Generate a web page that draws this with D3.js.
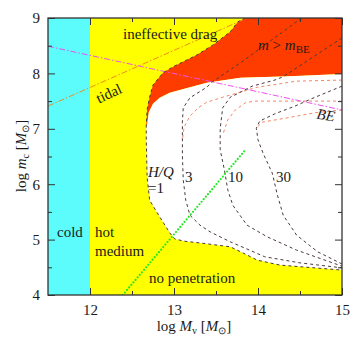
<!DOCTYPE html>
<html>
<head>
<meta charset="utf-8">
<script src="https://cdn.jsdelivr.net/npm/d3@7"></script>
<style>
body { margin: 0; background: #fff; }
text { font-family: "Liberation Serif", "Times New Roman", serif; fill: #1a1a1a; }
</style>
</head>
<body>
<svg id="chart" width="359" height="340"></svg>
<script>
// axis ranges and ticks
var xDomain = [11.5, 15], yDomain = [4, 9];
var xTicks = [12, 13, 14, 15], xMinor = [12.5, 13.5, 14.5];
var yTicks = [4, 5, 6, 7, 8, 9], yMinor = [4.5, 5.5, 6.5, 7.5, 8.5];
var coldEdge = 12;

// H/Q = 1 contour (log Mv, log mc), from top frame down and along the bottom
var hq1 = [[13.85, 9.00], [13.76, 8.93], [13.67, 8.75], [13.46, 8.51], [13.27, 8.33],
  [13.15, 8.24], [12.99, 8.12], [12.87, 8.01], [12.75, 7.79], [12.71, 7.57],
  [12.68, 7.34], [12.67, 7.07], [12.67, 6.80], [12.68, 6.13], [12.71, 5.71],
  [12.83, 5.41], [12.95, 5.12], [13.01, 5.01], [13.13, 4.97], [13.31, 4.94],
  [13.67, 4.87], [13.82, 4.76], [13.99, 4.63], [14.26, 4.54], [15.00, 4.45]];
// m = m_BE edge, right to left
var beEdge = [[15.00, 7.99], [14.38, 7.95], [13.79, 7.92], [13.39, 7.83], [13.07, 7.70],
  [12.95, 7.65], [12.83, 7.56], [12.75, 7.45], [12.70, 7.30], [12.68, 7.07]];

var hq3 = [[14.52, 9.00], [13.79, 8.19], [13.45, 7.84], [13.39, 7.75], [13.19, 7.56],
  [13.11, 7.38], [13.10, 7.12], [13.10, 6.53], [13.11, 6.08], [13.14, 5.71],
  [13.19, 5.44], [13.31, 5.26], [13.43, 5.14], [13.67, 4.96], [13.90, 4.81],
  [14.08, 4.69], [14.50, 4.58], [15.00, 4.49]];
var hq10 = [[15.00, 8.64], [14.30, 7.94], [14.20, 7.88], [13.93, 7.77], [13.79, 7.66],
  [13.67, 7.57], [13.58, 7.38], [13.55, 7.01], [13.55, 6.62], [13.60, 6.26],
  [13.64, 5.90], [13.70, 5.62], [13.87, 5.26], [14.11, 5.05], [14.46, 4.81],
  [15.00, 4.52]];
var hq30 = [[15.00, 7.77], [14.68, 7.57], [14.44, 7.41], [14.20, 7.27], [14.02, 7.14],
  [13.98, 7.01], [14.00, 6.80], [14.06, 6.56], [14.17, 6.20], [14.23, 5.81],
  [14.30, 5.44], [14.46, 5.08], [14.71, 4.78], [15.00, 4.56]];

var be3 = [[15.00, 7.88], [14.46, 7.86], [13.99, 7.75], [13.58, 7.57], [13.39, 7.48],
  [13.29, 7.38], [13.19, 7.23], [13.12, 7.03], [13.10, 6.80]];
var be10 = [[15.00, 7.50], [13.96, 7.50], [13.85, 7.47], [13.73, 7.34], [13.64, 7.16],
  [13.58, 6.89]];
var be30 = [[15.00, 7.34], [14.68, 7.29], [14.32, 7.19], [14.05, 7.12], [13.99, 7.03]];

var beLine = [[11.5, 8.49], [15.0, 7.34]];
var tidal = [[11.5, 7.41], [13.87, 9.0]];
var green = [[12.39, 4.0], [13.85, 6.62]];

var svg = d3.select('#chart');
var x = d3.scaleLinear().domain(xDomain).range([48, 342]);
var y = d3.scaleLinear().domain(yDomain).range([295, 18]);
var line = d3.line().x(d => x(d[0])).y(d => y(d[1]));

svg.append('clipPath').attr('id', 'plot')
  .append('rect')
  .attr('x', x(xDomain[0])).attr('y', y(yDomain[1]))
  .attr('width', x(xDomain[1]) - x(xDomain[0]))
  .attr('height', y(yDomain[0]) - y(yDomain[1]));

var g = svg.append('g').attr('clip-path', 'url(#plot)');

// regions
g.append('rect')
  .attr('x', x(xDomain[0])).attr('y', y(yDomain[1]))
  .attr('width', x(coldEdge) - x(xDomain[0]))
  .attr('height', y(yDomain[0]) - y(yDomain[1]))
  .attr('fill', '#5cfcfc');
g.append('rect')
  .attr('x', x(coldEdge)).attr('y', y(yDomain[1]))
  .attr('width', x(xDomain[1]) - x(coldEdge))
  .attr('height', y(yDomain[0]) - y(yDomain[1]))
  .attr('fill', '#ffff00');

var redArea = [[15, 9]].concat(hq1.slice(0, 12), beEdge.slice().reverse());
g.append('path').attr('d', line(redArea) + 'Z').attr('fill', '#ff3c00');
var whiteArea = beEdge.concat(hq1.slice(11));
g.append('path').attr('d', line(whiteArea) + 'Z').attr('fill', '#fff');

// curves
function curve(data, color, dash, width) {
  g.append('path').attr('d', line(data))
    .attr('fill', 'none')
    .attr('stroke', color)
    .attr('stroke-width', width || 1)
    .attr('stroke-dasharray', dash);
}
[be3, be10, be30].forEach(d => curve(d, '#f58563', '3,3'));
curve(beLine, '#f050f0', '6,2,1.5,2');
curve(tidal, '#f08a20', '6,2,1.5,2');
[hq1, hq3, hq10, hq30].forEach(d => curve(d, '#4a3a3a', '3,3'));
g.append('path').attr('d', line(green))
  .attr('fill', 'none').attr('stroke', '#22e822')
  .attr('stroke-width', 2.2).attr('stroke-dasharray', '0,3.3')
  .attr('stroke-linecap', 'round');

// axes, ticks inward
function axis(gen, tx, ty, vals, size, fmt, pad) {
  var a = svg.append('g').attr('transform', 'translate(' + tx + ',' + ty + ')')
    .call(gen.tickValues(vals).tickSize(size).tickPadding(pad || 3)
      .tickFormat(fmt ? d3.format('d') : ''));
  a.select('.domain').remove();
  a.selectAll('line').attr('stroke', '#333');
  a.selectAll('text').style('font-size', '15px').style('font-family', '"Liberation Serif", serif').attr('fill', '#1a1a1a');
  return a;
}
axis(d3.axisBottom(x), 0, 295, xTicks, -7, true, 9);
axis(d3.axisBottom(x), 0, 295, xMinor, -4, false);
axis(d3.axisTop(x), 0, 18, xTicks, -7, false);
axis(d3.axisTop(x), 0, 18, xMinor, -4, false);
axis(d3.axisLeft(y), 48, 0, yTicks, -7, true, 8);
axis(d3.axisLeft(y), 48, 0, yMinor, -4, false);
axis(d3.axisRight(y), 342, 0, yTicks, -7, false);
axis(d3.axisRight(y), 342, 0, yMinor, -4, false);

svg.append('rect')
  .attr('x', x(xDomain[0])).attr('y', y(yDomain[1]))
  .attr('width', x(xDomain[1]) - x(xDomain[0]))
  .attr('height', y(yDomain[0]) - y(yDomain[1]))
  .attr('fill', 'none').attr('stroke', '#333').attr('stroke-width', 1.3);

// labels
function label(tx, ty, txt, opts) {
  opts = opts || {};
  var t = svg.append('text').attr('x', tx).attr('y', ty)
    .style('font-size', (opts.size || 15) + 'px')
    .text(txt);
  if (opts.italic) t.style('font-style', 'italic');
  if (opts.anchor) t.attr('text-anchor', opts.anchor);
  if (opts.rotate) t.attr('x', 0).attr('y', 0)
    .attr('transform', 'translate(' + tx + ',' + ty + ') rotate(' + opts.rotate + ')');
  return t;
}
label(123, 39, 'ineffective drag');
label(111, 98, 'tidal', {anchor: 'middle', rotate: -25});
label(57, 237, 'cold');
label(95, 237, 'hot');
label(95, 256, 'medium');
label(149, 283, 'no penetration');
label(148, 177, 'H/Q', {italic: true});
label(148, 193, '=1');
label(185, 182, '3');
label(228, 182, '10');
label(276, 182, '30');
label(325, 120, 'BE', {italic: true, anchor: 'middle', rotate: 10});

var mbe = svg.append('text').attr('x', 258).attr('y', 50).style('font-size', '15px');
mbe.append('tspan').style('font-style', 'italic').text('m');
mbe.append('tspan').text(' > ');
mbe.append('tspan').style('font-style', 'italic').text('m');
mbe.append('tspan').attr('dy', 3).style('font-size', '11px').text('BE');

var xt = svg.append('text').attr('x', 194).attr('y', 331)
  .attr('text-anchor', 'middle').style('font-size', '15px');
xt.append('tspan').text('log ');
xt.append('tspan').style('font-style', 'italic').text('M');
xt.append('tspan').attr('dy', 3).style('font-size', '10px').text('v');
xt.append('tspan').attr('dy', -3).text(' [');
xt.append('tspan').style('font-style', 'italic').text('M');
xt.append('tspan').attr('dy', 3).style('font-size', '10px').text('⊙');
xt.append('tspan').attr('dy', -3).text(']');

var yt = svg.append('text').attr('transform', 'translate(26,156) rotate(-90)')
  .attr('text-anchor', 'middle').style('font-size', '15px');
yt.append('tspan').text('log ');
yt.append('tspan').style('font-style', 'italic').text('m');
yt.append('tspan').attr('dy', 3).style('font-size', '10px').text('c');
yt.append('tspan').attr('dy', -3).text(' [');
yt.append('tspan').style('font-style', 'italic').text('M');
yt.append('tspan').attr('dy', 3).style('font-size', '10px').text('⊙');
yt.append('tspan').attr('dy', -3).text(']');
</script>
</body>
</html>
